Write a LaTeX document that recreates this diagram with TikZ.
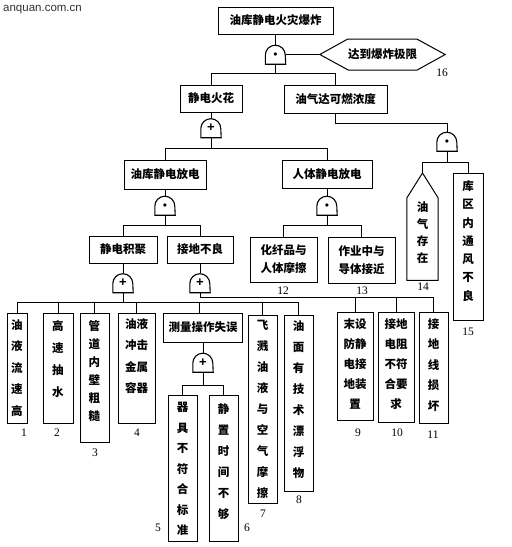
\documentclass[tikz,border=0pt]{standalone}
\usepackage{fontspec}
\setmainfont{Liberation Serif}
\newfontfamily\cjk{Noto Sans CJK SC}
\newfontfamily\wmfont{Liberation Sans}
\usetikzlibrary{calc}
% vertical column of characters: width, height, first-char centre offset, pitch, text
\newcommand\vcol[5]{\parbox[c][#2pt][t]{#1pt}{\centering\baselineskip=#4pt\relax\vspace*{\dimexpr#3pt-5pt\relax}#5\par}}
\newcommand\mygate[4]{%
  \node[gatenode] (#1) at (#2,#3) {\raisebox{-2pt}{#4}};
  \draw[gateline] (#1.south west) -- ++(0,-9) arc[start angle=180,end angle=0,radius=10pt] -- (#1.south east) -- cycle;}
\newcommand\anddot{{\fontsize{8}{8}\selectfont$\bullet$}}
\newcommand\orplus{{\wmfont\bfseries\fontsize{13}{13}\selectfont +}}
\tikzset{
  boxline/.style={draw=black,line width=1pt},
  cjkfont/.style={font=\cjk\bfseries\fontsize{11.5}{18}\selectfont},
  hbox/.style={boxline,inner sep=0pt,cjkfont,align=center},
  vbox/.style={boxline,inner sep=0pt,anchor=north,cjkfont},
  plain/.style={inner sep=0pt,cjkfont},
  gatenode/.style={inner sep=0pt,minimum width=20pt,minimum height=19pt},
  gateline/.style={draw=black,line width=1.1pt},
  conn/.style={draw=black,line width=0.8pt},
  num/.style={inner sep=0pt,font=\fontsize{11.5}{12}\selectfont}
}
\begin{document}
\begin{tikzpicture}[x=1pt,y=-1pt]
\useasboundingbox[fill=white] (0,0) rectangle (512,547);
\node[inner sep=0pt,anchor=west,font=\wmfont\fontsize{11.5}{12}\selectfont,text=black!80] (wm) at (3,10) {anquan.com.cn};

% top level
\node[hbox,minimum width=115pt,minimum height=27pt] (top) at (275.5,20.5) {油库静电火灾爆炸};
\mygate{g1}{275.5}{54.5}{\anddot}
\node[plain,minimum width=125pt,minimum height=31pt] (hex) at (382.5,54.5) {达到爆炸极限};
\draw[boxline] (hex.west) -- ++(28,-15.5) -- ++(69,0) -- (hex.east) -- ++(-28,15.5) -- ++(-69,0) -- cycle;
\node[num] (l16) at (442,73) {16};

\node[hbox,minimum width=62pt,minimum height=27pt] (spark) at (211,98.5) {静电火花};
\node[hbox,minimum width=103pt,minimum height=28pt] (conc) at (335.5,99) {油气达可燃浓度};

\mygate{g2}{211}{128}{\orplus}
\node[hbox,minimum width=82pt,minimum height=29pt] (yk) at (165,174.5) {油库静电放电};
\node[hbox,minimum width=90pt,minimum height=28pt] (rt) at (327,174.5) {人体静电放电};

\mygate{g5}{447}{141.5}{\anddot}
\node[plain,anchor=north,minimum width=31pt,minimum height=107pt] (e14) at (422.5,173) {\vcol{31}{107}{34}{17}{油\\气\\存\\在}};
\draw[boxline] (e14.south west) -- (e14.south east) -- ($(e14.north east)+(0,25)$) -- (e14.north) -- ($(e14.north west)+(0,25)$) -- cycle;
\node[vbox] (e15) at (468,173) {\vcol{30}{147}{12}{18.3}{库\\区\\内\\通\\风\\不\\良}};
\node[num] (l14) at (423,287) {14};
\node[num] (l15) at (468,332) {15};

\mygate{g3}{165}{205.5}{\anddot}
\mygate{g4}{327}{205.5}{\anddot}
\node[hbox,minimum width=68pt,minimum height=27pt] (jj) at (123,249.5) {静电积聚};
\node[hbox,minimum width=66pt,minimum height=27pt] (jd) at (200,249.5) {接地不良};
\node[hbox,minimum width=67pt,minimum height=45pt] (e12) at (283.5,259.5) {化纤品与\\人体摩擦};
\node[hbox,minimum width=67pt,minimum height=46pt] (e13) at (361.5,260) {作业中与\\导体接近};
\node[num] (l12) at (283,291) {12};
\node[num] (l13) at (362,291) {13};

\mygate{g6}{123}{283}{\orplus}
\mygate{g7}{200}{283}{\orplus}

\node[vbox] (e1) at (17,313) {\vcol{20}{110}{11}{21.5}{油\\液\\流\\速\\高}};
\node[vbox] (e2) at (58,313) {\vcol{30}{110}{12}{22}{高\\速\\抽\\水}};
\node[vbox] (e3) at (94.5,313) {\vcol{29}{129}{12}{18}{管\\道\\内\\壁\\粗\\糙}};
\node[vbox] (e4) at (136.5,313) {\vcol{37}{110}{10}{21.5}{油液\\冲击\\金属\\容器}};
\node[hbox,minimum width=79pt,minimum height=29pt] (meas) at (203,327.5) {测量操作失误};
\mygate{g8}{203}{362.5}{\orplus}
\node[vbox] (e5) at (182.5,395) {\vcol{29}{146}{12}{20.5}{器\\具\\不\\符\\合\\标\\准}};
\node[vbox] (e6) at (223.5,395) {\vcol{29}{146}{13}{21}{静\\置\\时\\间\\不\\够}};
\node[vbox] (e7) at (262.5,315) {\vcol{29}{188}{10}{20.9}{飞\\溅\\油\\液\\与\\空\\气\\摩\\擦}};
\node[vbox] (e8) at (298.5,315) {\vcol{29}{176}{10}{21.1}{油\\面\\有\\技\\术\\漂\\浮\\物}};
\node[vbox] (e9) at (355,312) {\vcol{36}{108}{11}{20}{末设\\防静\\电接\\地装\\置}};
\node[vbox] (e10) at (396,312) {\vcol{36}{110}{11}{20}{接地\\电阻\\不符\\合要\\求}};
\node[vbox] (e11) at (433.5,312) {\vcol{29}{111}{11}{20.5}{接\\地\\线\\损\\坏}};

\node[num] (l1) at (24,433) {1};
\node[num] (l2) at (57,433) {2};
\node[num] (l3) at (95,453) {3};
\node[num] (l4) at (137,433) {4};
\node[num] (l5) at (158,528) {5};
\node[num] (l6) at (247,528) {6};
\node[num] (l7) at (263,514) {7};
\node[num] (l8) at (299,500) {8};
\node[num] (l9) at (358,433) {9};
\node[num] (l10) at (397,433) {10};
\node[num] (l11) at (433,435) {11};

% connectors
\draw[conn] (top.south) -- (g1.north);
\draw[conn] (g1.east) -- (hex.west);
\draw[conn] (g1.south) -- ++(0,9) -| (spark.north);
\draw[conn] (g1.south) -- ++(0,9) -| (conc.north);
\draw[conn] (spark.south) -- (g2.north);
\draw[conn] (g2.south) -- ++(0,11) -| (yk.north);
\draw[conn] (g2.south) -- ++(0,11) -| (rt.north);
\draw[conn] (conc.south) -- ++(0,10) -| (g5.north);
\draw[conn] (g5.south) -- ++(0,11) -| (e14.north);
\draw[conn] (g5.south) -- ++(0,11) -| (e15.north);
\draw[conn] (yk.south) -- (g3.north);
\draw[conn] (rt.south) -- (g4.north);
\draw[conn] (g3.south) -- ++(0,10) -| (jj.north);
\draw[conn] (g3.south) -- ++(0,10) -| (jd.north);
\draw[conn] (g4.south) -- ++(0,10) -| (e12.north);
\draw[conn] (g4.south) -- ++(0,10) -| (e13.north);
\draw[conn] (jj.south) -- (g6.north);
\draw[conn] (jd.south) -- (g7.north);
\foreach \t in {e1,e2,e3,e4,e7,e8}{\draw[conn] (g6.south) -- ++(0,10) -| (\t.north);}
\draw[conn] (g6.south) -- ++(0,10) -| ([xshift=-4pt]meas.north);
\foreach \t in {e9,e10,e11}{\draw[conn] (g7.south) -- ++(0,5) -| (\t.north);}
\draw[conn] (meas.south) -- (g8.north);
\draw[conn] (g8.south) -- ++(0,13) -| (e5.north);
\draw[conn] (g8.south) -- ++(0,13) -| (e6.north);
\end{tikzpicture}
\end{document}
